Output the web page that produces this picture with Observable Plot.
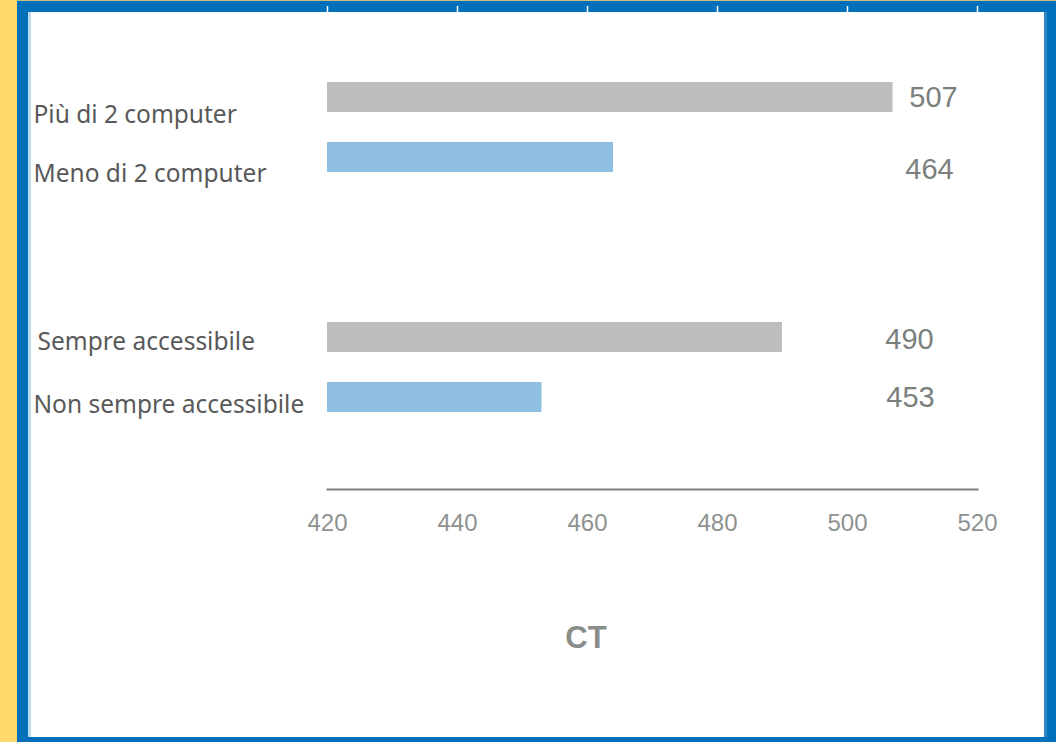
<!DOCTYPE html>
<html>
<head>
<meta charset="utf-8">
<script src="https://cdn.jsdelivr.net/npm/d3@7"></script>
<script src="https://cdn.jsdelivr.net/npm/@observablehq/plot@0.6"></script>
<style>
  html, body { margin: 0; padding: 0; background: #fff; }
  #card { position: relative; width: 1056px; height: 742px; overflow: hidden; background: #fff; }
  .edge { position: absolute; }
  #chart { position: absolute; left: 0; top: 0; }
  #chart svg { overflow: visible; }
</style>
</head>
<body>
<div id="card">
  <div class="edge" style="left:0;top:0;width:17px;height:742px;background:#FFD96B"></div>
  <div class="edge" style="left:17px;top:0;width:1039px;height:1px;background:#C6C183"></div>
  <div class="edge" style="left:17px;top:1px;width:1039px;height:11px;background:#0070BA"></div>
  <div class="edge" style="left:17px;top:1px;width:11px;height:741px;background:#0070BA"></div>
  <div class="edge" style="left:28px;top:12px;width:3px;height:725px;background:#BDD9EF"></div>
  <div class="edge" style="left:1044px;top:12px;width:3px;height:725px;background:#2E86C6"></div>
  <div class="edge" style="left:1047px;top:1px;width:9px;height:741px;background:#0070BA"></div>
  <div class="edge" style="left:17px;top:737px;width:1039px;height:5px;background:#0070BA"></div>
  <div id="chart"></div>
</div>
<script>
// Punteggi medi CT per dotazione di computer e accessibilità
const categories = ["Più di 2 computer", "Meno di 2 computer", "Sempre accessibile", "Non sempre accessibile"];
const values = [507, 464, 490, 453];
const tiers = ["alto", "basso", "alto", "basso"];
const xTicks = [420, 440, 460, 480, 500, 520];
const axisTitle = "CT";

const xDomain = [xTicks[0], xTicks[xTicks.length - 1]];

// two empty rows separate the computer group from the accessibility group
const gapA = " ", gapB = "  ";
const yDomain = [categories[0], categories[1], gapA, gapB, categories[2], categories[3]];

const rows = categories.map((c, i) => ({category: c, value: values[i], tier: tiers[i]}));

// per-row nudges for the category and value labels
const labelNudge = [
  {dx: -294, dy: 18}, {dx: -294, dy: 17}, {dx: -290, dy: 5}, {dx: -294, dy: 8}
];
const valueNudge = [
  {dx: -44, dy: 0}, {dx: -48, dy: 12}, {dx: -68, dy: 2.5}, {dx: -67, dy: 0.5}
];

const labelFont = "'Noto Sans', 'Open Sans', sans-serif";
const numberFont = "'Liberation Sans', Arial, sans-serif";

const plot = Plot.plot({
  width: 1056,
  height: 742,
  marginTop: 12,
  marginBottom: 253,
  marginLeft: 327,
  marginRight: 79,
  style: {background: "transparent", overflow: "visible"},
  x: {domain: xDomain},
  y: {domain: yDomain, range: [50.5, 444.4], padding: 0.5, axis: null},
  color: {domain: ["alto", "basso"], range: ["#BDBEBB", "#8FBFE0"]},
  marks: [
    Plot.barX(rows, {x1: xDomain[0], x2: "value", y: "category", fill: "tier"}),
    Plot.frame({anchor: "bottom", stroke: "#7F7F7F", strokeWidth: 2}),
    Plot.axisX({
      anchor: "bottom", ticks: xTicks, tickSize: 0, tickPadding: 24,
      fontSize: 24, fontFamily: numberFont, color: "#8E928F", label: null
    }),
    Plot.axisX({
      anchor: "top", ticks: xTicks, tickSize: 7, tickFormat: () => "",
      stroke: "#FFFFFF", strokeWidth: 1.5, label: null
    }),
    ...rows.map((r, i) => Plot.text([r], {
      y: "category", text: "category", frameAnchor: "left", textAnchor: "start",
      dx: labelNudge[i].dx, dy: labelNudge[i].dy,
      fontSize: 24.5, fontFamily: labelFont, fill: "#595959"
    })),
    ...rows.map((r, i) => Plot.text([r], {
      y: "category", text: d => String(d.value), frameAnchor: "right", textAnchor: "middle",
      dx: valueNudge[i].dx, dy: valueNudge[i].dy,
      fontSize: 29, fontFamily: numberFont, fill: "#7B807D"
    })),
    Plot.text([axisTitle], {
      text: d => d, frameAnchor: "bottom", lineAnchor: "middle", dx: -66.5, dy: 149,
      fontSize: 31, fontWeight: "bold", fontFamily: numberFont, fill: "#8A8E8B"
    })
  ]
});

document.getElementById("chart").appendChild(plot);
</script>
</body>
</html>
